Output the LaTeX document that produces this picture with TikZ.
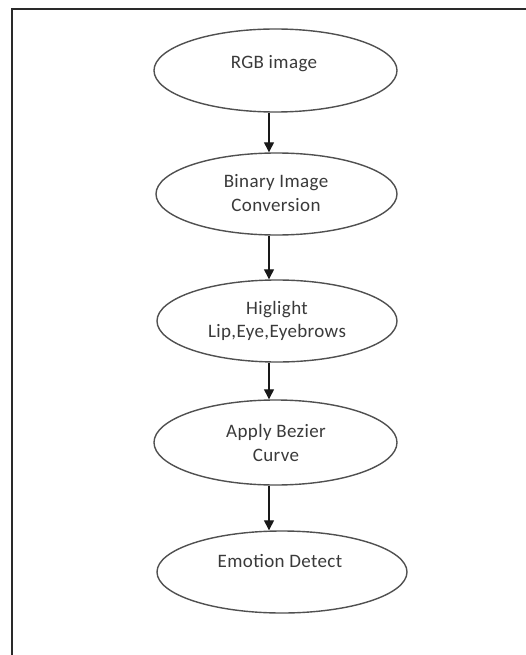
\documentclass[tikz,border=0pt]{standalone}
\usepackage{fontspec}
\setmainfont{Carlito}[LetterSpace=2]
\usetikzlibrary{shapes.geometric,arrows.meta}
\definecolor{ovalgray}{HTML}{505050}
\definecolor{txtgray}{HTML}{3A3A3A}
\definecolor{framegray}{HTML}{2A2A2A}
\tikzset{
  oval/.style={ellipse,draw=ovalgray,line width=1.4pt,inner sep=0pt,fill=white},
  txt/.style={anchor=base,inner sep=0pt,text=txtgray,font=\fontsize{19}{23.6}\selectfont},
  arr/.style={draw=black!90,line width=1.3pt,-{Triangle[length=10pt,width=10pt]}},
  frame/.style={draw=framegray,line width=2.4pt,line join=miter},
}
\newcommand{\twolines}[2]{\begin{tabular}[t]{@{}c@{}}#1\\#2\end{tabular}}
\begin{document}
\begin{tikzpicture}[x=1pt,y=-1pt]
\useasboundingbox (0,0) rectangle (525,655);
% frame
\coordinate (tl) at (12,9);
\coordinate (tr) at (526,9);
\coordinate (bl) at (12,656);
\draw[frame] (tr) -- (tl) -- (bl);
% ovals
\node[oval,minimum width=243pt,minimum height=83pt] (e1) at (275.5,70.5) {};
\node[oval,minimum width=241pt,minimum height=82pt] (e2) at (276.5,194) {};
\node[oval,minimum width=240pt,minimum height=82pt] (e3) at (277,321) {};
\node[oval,minimum width=243pt,minimum height=85pt] (e4) at (275.5,442.5) {};
\node[oval,minimum width=250pt,minimum height=82pt] (e5) at (282,572) {};
% texts
\node[txt] (t1) at (274,69) {RGB image};
\node[txt] (t2) at (276,187.7) {\twolines{Binary Image}{Conversion}};
\node[txt] (t3) at (277,314.3) {\twolines{Higlight}{Lip,Eye,Eyebrows}};
\node[txt] (t4) at (276,437.7) {\twolines{Apply Bezier}{Curve}};
\node[txt] (t5) at (280,567.7) {Emotion Detect};
% arrows
\coordinate (ax) at (269,0);
\draw[arr] (e1.south -| ax) -- (e2.north -| ax);
\draw[arr] (e2.south -| ax) -- (e3.north -| ax);
\draw[arr] (e3.south -| ax) -- (e4.north -| ax);
\draw[arr] (e4.south -| ax) -- (e5.north -| ax);
\end{tikzpicture}
\end{document}
